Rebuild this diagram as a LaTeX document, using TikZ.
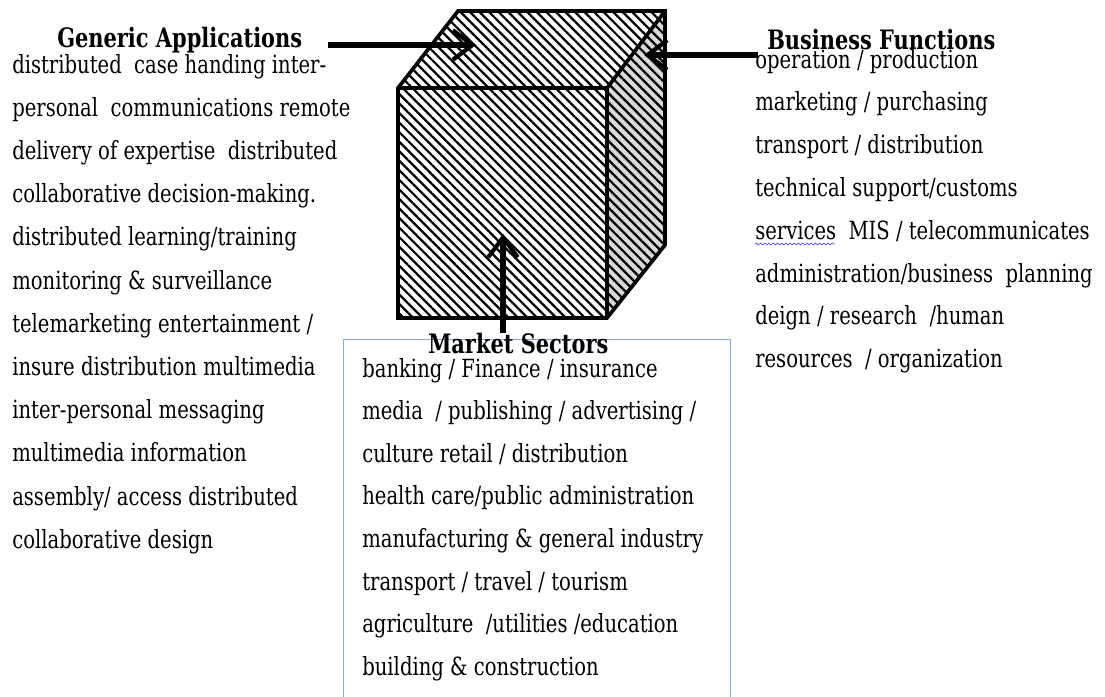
\documentclass[tikz,border=0pt]{standalone}
\usepackage{fontspec}
\setmainfont{DejaVu Serif Condensed}[FakeStretch=0.87]
\usetikzlibrary{patterns.meta,arrows.meta,decorations.pathmorphing}
\begin{document}
\begin{tikzpicture}[x=0.025cm,y=-0.025cm,
  body/.style={inner sep=0pt,anchor=base west,font=\fontsize{17.8}{20}\selectfont},
  head/.style={inner sep=0pt,anchor=base west,font=\bfseries\fontsize{19}{21}\selectfont},
  edge/.style={line width=2.6pt,line join=miter},
  hatch/.style={pattern={Lines[angle=-45,distance=4.8pt,line width=1.6pt]}},
  bigarrow/.style={line width=3.6pt,-{Straight Barb[length=14pt,width=21pt,line width=3pt]}}]
\useasboundingbox (0,0) rectangle (1105,697);
% cube corners
\coordinate (ftl) at (398,88);
\coordinate (ftr) at (607,88);
\coordinate (fbr) at (607,318);
\coordinate (fbl) at (398,318);
\coordinate (btl) at (458,11);
\coordinate (btr) at (665,11);
\coordinate (bbr) at (665,245);
% faces
\fill[gray!30] (ftr) -- (btr) -- (bbr) -- (fbr) -- cycle;
\path[hatch] (ftr) -- (btr) -- (bbr) -- (fbr) -- cycle;
\path[hatch] (ftl) -- (btl) -- (btr) -- (ftr) -- cycle;
\path[hatch] (ftl) -- (ftr) -- (fbr) -- (fbl) -- cycle;
\draw[edge] (ftl) -- (btl) -- (btr) -- (bbr) -- (fbr) -- (fbl) -- cycle;
\draw[edge] (ftl) -- (ftr) -- (fbr);
\draw[edge] (ftr) -- (btr);
% market box
\draw[color={rgb,255:red,140;green,170;blue,215},line width=0.7pt] (343,700) -- (343,339) -- (730,339) -- (730,700);
% headings
\node[head] (ga) at (57,48) {Generic Applications};
\node[head] (bf) at (767,49) {Business Functions};
\node[head] (ms) at (428,353) {Market Sectors};
% arrow anchors
\coordinate (gaS) at (328,45);
\coordinate (gaT) at (476,45);
\coordinate (bfS) at (758,55);
\coordinate (bfT) at (644,55);
\coordinate (msS) at (503,333);
\coordinate (msT) at (503,234);
\draw[bigarrow] (gaS) -- (gaT);
\draw[bigarrow] (bfS) -- (bfT);
\draw[bigarrow] (msS) -- (msT);
% left text
\foreach \t [count=\i] in {distributed\ \ case handing inter-,personal\ \ communications remote,delivery of expertise\ \ distributed,collaborative decision-making.,distributed learning/training,monitoring \& surveillance,telemarketing entertainment /,insure distribution multimedia,inter-personal messaging,multimedia information,assembly/ access distributed,collaborative design}
  \node[body] (g\i) at (12,{73+43.2*(\i-1)}) {\t};
% right text
\foreach \t [count=\i] in {operation / production,marketing / purchasing,transport / distribution,technical support/customs,services\ \ MIS / telecommunicates,administration/business\ \ planning,deign / research\ \ /human,resources\ \ / organization}
  \node[body] (b\i) at (755,{68+42.8*(\i-1)}) {\t};
% market text
\foreach \t [count=\i] in {banking / Finance / insurance,media\ \ / publishing / advertising /,culture retail / distribution,health care/public administration,manufacturing \& general industry,transport / travel / tourism,agriculture\ \ /utilities /education,building \& construction}
  \node[body] (m\i) at (362,{377+42.6*(\i-1)}) {\t};
% spell-check underline
\coordinate (wavyA) at (755,244);
\coordinate (wavyB) at (835,244);
\draw[blue!70,line width=0.5pt,decorate,decoration={snake,amplitude=0.7pt,segment length=3pt}] (wavyA) -- (wavyB);
\end{tikzpicture}
\end{document}
